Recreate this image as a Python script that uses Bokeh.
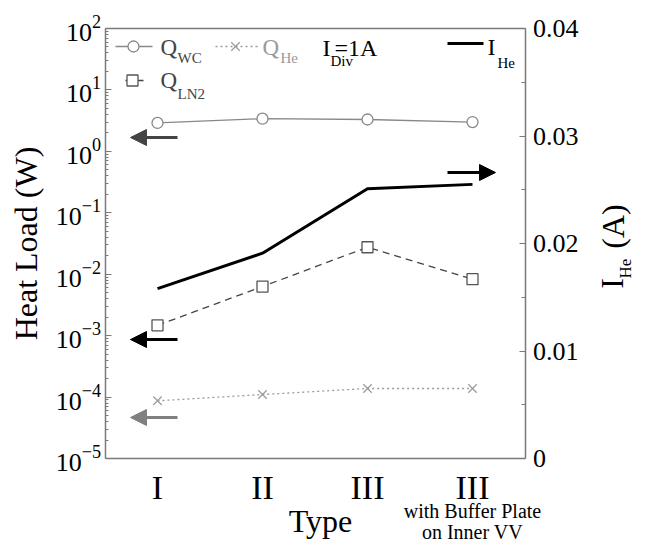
import math
from bokeh.plotting import figure
from bokeh.models import (Range1d, LinearAxis, LinearScale, FixedTicker, Label,
                          Arrow, NormalHead)
from bokeh.embed import file_html
from bokeh.resources import INLINE

# ---------------- data ----------------
types = ["I", "II", "III", "III"]
xpos = [1, 2, 3, 4]
q_wc = [2.9, 3.4, 3.3, 3.0]
q_he = [8.7e-5, 1.1e-4, 1.38e-4, 1.38e-4]
q_ln2 = [1.47e-3, 6.3e-3, 2.75e-2, 8.3e-3]
i_he = [0.0158, 0.0191, 0.0251, 0.0255]
left_ticks = [1e-5, 1e-4, 1e-3, 1e-2, 1e-1, 1e0, 1e1, 1e2]
right_ticks = [0.0, 0.01, 0.02, 0.03, 0.04]
right_labels = ["0", "0.01", "0.02", "0.03", "0.04"]
right_minor = [0.005, 0.015, 0.025, 0.035]
x_bounds = (0.5, 4.5)
y_bounds = (1e-5, 1e2)
r_bounds = (0.0, 0.04)

FONT = "Liberation Serif"
AX = "#7a7a7a"

# ---------------- geometry (canvas px == picture px) ----------------
W, H = 648, 541
PL, PR = 104.5, 524.5     # x of x_bounds
PT, PB = 28.0, 458.0      # y of top / bottom of the axes box
LY0, LY1 = math.log10(y_bounds[0]), math.log10(y_bounds[1])
XU = (PR - PL) / (x_bounds[1] - x_bounds[0])
YU = (PB - PT) / (LY1 - LY0)
RU = (PB - PT) / (r_bounds[1] - r_bounds[0])

x_start = x_bounds[0] - PL / XU
x_end = x_bounds[1] + (W - PR) / XU
y_start = 10 ** (LY0 - (H - PB) / YU)
y_end = 10 ** (LY1 + PT / YU)
r_start = r_bounds[0] - (H - PB) / RU
r_end = r_bounds[1] + PT / RU

def dxi(ix):   # px -> x data
    return x_bounds[0] + (ix - PL) / XU

def dyi(iy):   # px -> left (log) data
    return 10 ** (LY1 - (iy - PT) / YU)

def dri(iy):   # px -> right data
    return r_bounds[1] - (iy - PT) / RU

p = figure(width=W, height=H, y_axis_type="log",
           x_range=Range1d(x_start, x_end), y_range=Range1d(y_start, y_end),
           output_backend="svg", toolbar_location=None,
           min_border=0, min_border_left=0, min_border_right=0,
           min_border_top=0, min_border_bottom=0)
p.grid.visible = False
p.outline_line_color = None
p.background_fill_color = "white"
p.border_fill_color = "white"

p.extra_y_ranges = {"cur": Range1d(r_start, r_end)}
p.extra_y_scales = {"cur": LinearScale()}

# left axis
ya = p.yaxis[0]
minor = [k * 10 ** n for n in range(-5, 2) for k in range(2, 10)]
ya.ticker = FixedTicker(ticks=left_ticks, minor_ticks=minor)
ya.fixed_location = x_bounds[0]
ya.bounds = y_bounds
ya.major_label_text_font = FONT
ya.major_label_text_font_size = "26px"
ya.major_label_text_color = "black"
ya.major_label_standoff = 4
ya.major_tick_in = 6
ya.major_tick_out = 0
ya.minor_tick_in = 3
ya.minor_tick_out = 0
ya.axis_line_color = AX
ya.axis_line_width = 1.5
ya.major_tick_line_color = AX
ya.minor_tick_line_color = AX

# bottom axis
xa = p.xaxis[0]
xa.ticker = FixedTicker(ticks=xpos)
xa.fixed_location = y_bounds[0]
xa.bounds = x_bounds
xa.major_label_overrides = {x: t for x, t in zip(xpos, types)}
xa.major_label_text_font = FONT
xa.major_label_text_font_size = "34px"
xa.major_label_text_color = "black"
xa.major_label_standoff = 4
xa.major_tick_line_color = None
xa.minor_tick_line_color = None
xa.axis_line_color = AX
xa.axis_line_width = 1.5

# top border
ta = LinearAxis(ticker=FixedTicker(ticks=[]), fixed_location=y_bounds[1],
                bounds=x_bounds, axis_line_color=AX, axis_line_width=1.5,
                major_tick_line_color=None, minor_tick_line_color=None,
                major_label_text_font_size="0px")
p.add_layout(ta, "above")

# right axis
ra = LinearAxis(y_range_name="cur", fixed_location=x_bounds[1], bounds=r_bounds,
                ticker=FixedTicker(ticks=right_ticks, minor_ticks=right_minor))
ra.major_label_overrides = {t: l for t, l in zip(right_ticks, right_labels)}
ra.major_label_text_font = FONT
ra.major_label_text_font_size = "26px"
ra.major_label_text_color = "black"
ra.major_label_standoff = 8
ra.major_tick_in = 6
ra.major_tick_out = 0
ra.minor_tick_in = 4
ra.minor_tick_out = 0
ra.axis_line_color = AX
ra.axis_line_width = 1.5
ra.major_tick_line_color = AX
ra.minor_tick_line_color = AX
p.add_layout(ra, "right")

# ---------------- series ----------------
p.line(xpos, q_wc, line_color="#888888", line_width=1.3)
p.scatter(xpos, q_wc, marker="circle", size=11, fill_color="white",
          line_color="#888888", line_width=1.3)

p.line(xpos, q_he, line_color="#9a9a9a", line_width=1.3, line_dash="2 3")
p.scatter(xpos, q_he, marker="x", size=12, line_color="#9a9a9a", line_width=1.2)

p.line(xpos, q_ln2, line_color="#444444", line_width=1.3, line_dash="7 5")
p.scatter(xpos, q_ln2, marker="square", size=11, fill_color="white",
          line_color="#555555", line_width=1.3)

p.line(xpos, i_he, y_range_name="cur", line_color="black", line_width=3)

# ---------------- arrows ----------------
def arrow(ix0, ix1, y, color, rng="default"):
    p.add_layout(Arrow(x_start=dxi(ix0), x_end=dxi(ix1), y_start=y, y_end=y,
                       line_color=color, line_width=3,
                       end=NormalHead(size=16, fill_color=color, line_color=color),
                       y_range_name=rng))

arrow(177, 130, dyi(137), "#444444")
arrow(177, 130, dyi(339), "black")
arrow(177, 130, dyi(417), "#808080")
arrow(447, 495, dri(172), "black", "cur")

# ---------------- texts ----------------
def lab(ix, iy, text, size, color="black", align="left", angle=0.0,
        baseline="middle"):
    p.add_layout(Label(x=ix, y=H - iy, x_units="screen",
                       y_units="screen", text=text, text_font=FONT,
                       text_font_size=size, text_color=color,
                       text_align=align, text_baseline=baseline, angle=angle))

# legend: Q_WC
p.line([dxi(115), dxi(152)], [dyi(46)] * 2, line_color="#888888", line_width=1.3)
p.scatter([dxi(133)], [dyi(46)], marker="circle", size=11, fill_color="white",
          line_color="#888888", line_width=1.3)
lab(160, 47, "Q", "23px", "#444444")
lab(177, 57, "WC", "15px", "#444444")
# legend: Q_He
p.line([dxi(215), dxi(257)], [dyi(46)] * 2, line_color="#9a9a9a",
       line_width=1.3, line_dash="2 3")
p.scatter([dxi(235)], [dyi(46)], marker="x", size=12, line_color="#9a9a9a",
          line_width=1.2)
lab(262, 47, "Q", "23px", "#9a9a9a")
lab(280, 57, "He", "15px", "#9a9a9a")
# I_Div = 1A
lab(322, 47, "I", "24px")
lab(330, 60, "Div", "15px")
lab(334, 47, "=1A", "24px")
# legend: I_He
p.line([dxi(447), dxi(483)], [dyi(43)] * 2, line_color="black", line_width=3)
lab(487, 46, "I", "24px")
lab(497, 62, "He", "15px")
# legend: Q_LN2
p.line([dxi(125), dxi(143)], [dyi(80)] * 2, line_color="#444444", line_width=1.3)
p.scatter([dxi(132)], [dyi(80)], marker="square", size=11, fill_color="white",
          line_color="#555555", line_width=1.3)
lab(160, 80, "Q", "23px", "#444444")
lab(177, 93, "LN2", "15px", "#444444")

# axis titles
lab(25, 243, "Heat Load (W)", "32px", angle=math.pi / 2, align="center")
lab(611, 283, "I", "32px", angle=math.pi / 2, align="center")
lab(625, 268, "He", "17px", angle=math.pi / 2, align="center")
lab(612, 226, "(A)", "32px", angle=math.pi / 2, align="center")
lab(320, 520, "Type", "32px", align="center")

# subtitle under last category
lab(472, 510, "with Buffer Plate", "20px", align="center", baseline="alphabetic")
lab(472, 531, "on Inner VV", "20px", align="center", baseline="alphabetic")

open("out.html", "w").write(file_html(p, INLINE))
